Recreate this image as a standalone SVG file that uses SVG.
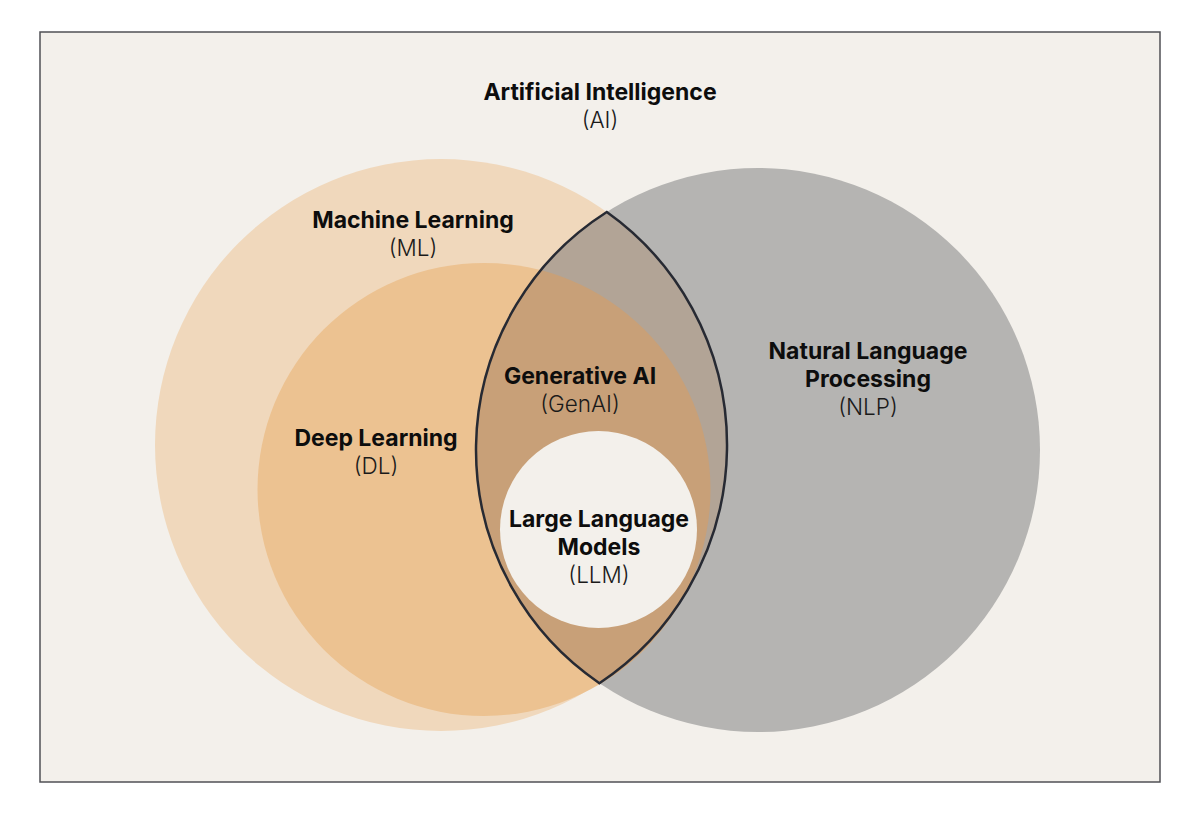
<svg xmlns="http://www.w3.org/2000/svg" width="1200" height="817" viewBox="0 0 1200 817">
<style>
.t{font-family:Inter,"Liberation Sans",sans-serif;font-size:23px;font-weight:700;fill:#0d0d0d;text-anchor:middle}
.s{font-family:Inter,"Liberation Sans",sans-serif;font-size:22.5px;font-weight:300;fill:#1a1a1a;text-anchor:middle}
</style>
<defs>
<clipPath id="clipML"><circle cx="441" cy="445" r="286"/></clipPath>
<clipPath id="clipNLP"><circle cx="758" cy="450" r="282"/></clipPath>
</defs>
<rect width="1200" height="817" fill="#ffffff"/>
<g id="ai">
<rect x="40" y="32" width="1120" height="750" fill="#f3f0eb" stroke="#505055" stroke-width="1.5"/>
<text class="t" x="600" y="100">Artificial Intelligence</text>
<text class="s" x="600" y="128">(AI)</text>
</g>
<g id="ml">
<circle cx="441" cy="445" r="286" fill="#f0d8bc"/>
</g>
<g id="nlp">
<circle cx="758" cy="450" r="282" fill="#b5b4b2"/>
</g>
<g id="dl">
<circle cx="484" cy="489.5" r="226.5" fill="#ecc291"/>
</g>
<g id="genai">
<circle cx="758" cy="450" r="282" fill="#b2a496" clip-path="url(#clipML)"/>
<circle cx="484" cy="489.5" r="226.5" fill="#c8a078" clip-path="url(#clipNLP)"/>
</g>
<g id="llm">
<circle cx="598.5" cy="529.5" r="98.5" fill="#f3f0eb"/>
</g>
<g id="connectors">
<path d="M606.8,212 A282,282 0 0 0 599.4,683.2 A286,286 0 0 0 606.8,212 Z" fill="none" stroke="#272a33" stroke-width="2.5" stroke-linejoin="miter"/>
</g>
<g id="labels">
<text class="t" x="413" y="228">Machine Learning</text>
<text class="s" x="413" y="256">(ML)</text>
<text class="t" x="376" y="446">Deep Learning</text>
<text class="s" x="376" y="474">(DL)</text>
<text class="t" x="868" y="359">Natural Language</text>
<text class="t" x="868" y="387">Processing</text>
<text class="s" x="868" y="415">(NLP)</text>
<text class="t" x="580" y="384">Generative AI</text>
<text class="s" x="580" y="412">(GenAI)</text>
<text class="t" x="599" y="527">Large Language</text>
<text class="t" x="599" y="555">Models</text>
<text class="s" x="599" y="583">(LLM)</text>
</g>
</svg>
